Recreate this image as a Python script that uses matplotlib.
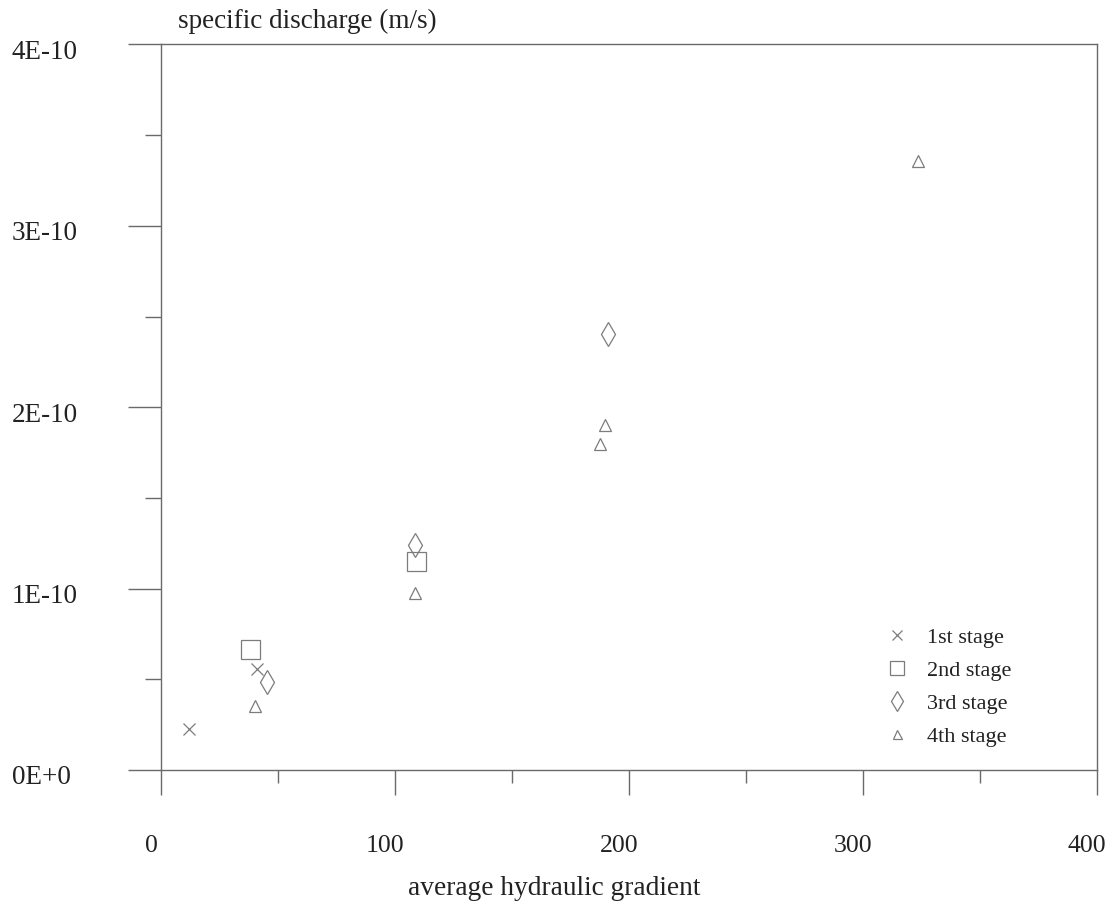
import matplotlib
matplotlib.use("Agg")
import matplotlib.pyplot as plt
from matplotlib.lines import Line2D
from matplotlib.ticker import FixedLocator, FixedFormatter, MultipleLocator
import matplotlib.transforms as mtransforms

# ---- data: specific discharge vs. average hydraulic gradient, per loading stage ----
stage1_gradient = [12.1, 41.0]
stage1_discharge = [0.226e-10, 0.557e-10]

stage2_gradient = [38.0, 109.0]
stage2_discharge = [0.666e-10, 1.155e-10]

stage3_gradient = [45.2, 108.5, 191.2]
stage3_discharge = [0.487e-10, 1.241e-10, 2.406e-10]

stage4_gradient = [40.3, 108.5, 189.7, 187.6, 323.6]
stage4_discharge = [0.353e-10, 0.978e-10, 1.903e-10, 1.799e-10, 3.356e-10]

stage_labels = ["1st stage", "2nd stage", "3rd stage", "4th stage"]

x_ticks = [0, 100, 200, 300, 400]
x_tick_labels = ["0", "100", "200", "300", "400"]
y_ticks = [0, 1e-10, 2e-10, 3e-10, 4e-10]
y_tick_labels = ["0E+0", "1E-10", "2E-10", "3E-10", "4E-10"]

x_label = "average hydraulic gradient"
y_label = "specific discharge (m/s)"

# ---- styling ----
SERIF = ["Liberation Serif", "DejaVu Serif"]
TEXT = "#222222"
LINE = "#6a6a6a"
MARK = "#7c7c7c"
PX = 0.72  # points per pixel at 100 dpi

plt.rcParams["font.family"] = SERIF

fig = plt.figure(figsize=(11.13, 9.10), dpi=100)
fig.patch.set_facecolor("white")
W, H = 1113, 910
left_px, right_px, bottom_px, top_px = 161, 1097, 770, 44.5
ax = fig.add_axes([left_px / W, 1 - bottom_px / H,
                   (right_px - left_px) / W, (bottom_px - top_px) / H])
ax.set_facecolor("white")
ax.set_xlim(0, 400)
ax.set_ylim(0, 4e-10)

for sp in ax.spines.values():
    sp.set_color(LINE)
    sp.set_linewidth(1.0)

# ticks
ax.xaxis.set_major_locator(FixedLocator(x_ticks))
ax.xaxis.set_major_formatter(FixedFormatter(x_tick_labels))
ax.xaxis.set_minor_locator(MultipleLocator(50))
ax.yaxis.set_major_locator(FixedLocator(y_ticks))
ax.yaxis.set_major_formatter(FixedFormatter(y_tick_labels))
ax.yaxis.set_minor_locator(MultipleLocator(0.5e-10))

ax.tick_params(axis="x", which="major", direction="out", length=25 * PX,
               width=1.0, color=LINE, pad=29, labelsize=18.5, labelcolor=TEXT)
ax.tick_params(axis="x", which="minor", direction="out", length=13 * PX,
               width=1.0, color=LINE)
ax.tick_params(axis="y", which="major", direction="out", length=33 * PX,
               width=1.0, color=LINE, pad=116 * PX, labelsize=19.5, labelcolor=TEXT)
ax.tick_params(axis="y", which="minor", direction="out", length=16 * PX,
               width=1.0, color=LINE)

ydown = mtransforms.ScaledTranslation(0, -5 / 100, fig.dpi_scale_trans)
for lab in ax.get_yticklabels():
    lab.set_horizontalalignment("left")
    lab.set_transform(lab.get_transform() + ydown)
xshift = mtransforms.ScaledTranslation(-10 / 100, 0, fig.dpi_scale_trans)
for lab in ax.get_xticklabels():
    lab.set_transform(lab.get_transform() + xshift)

# markers
mk = dict(linestyle="none", markerfacecolor="none", markeredgecolor=MARK,
          markeredgewidth=0.9)
ax.plot(stage1_gradient, stage1_discharge, marker="x", markersize=12 * PX, **mk)
ax.plot(stage2_gradient, stage2_discharge, marker="s", markersize=19 * PX, **mk)
ax.plot(stage3_gradient, stage3_discharge, marker="d", markersize=17 * PX, **mk)
ax.plot(stage4_gradient, stage4_discharge, marker="^", markersize=12.5 * PX, **mk)

# legend with smaller symbols
handles = [
    Line2D([], [], marker="x", markersize=10 * PX, **mk),
    Line2D([], [], marker="s", markersize=14 * PX, **mk),
    Line2D([], [], marker="d", markersize=14 * PX, **mk),
    Line2D([], [], marker="^", markersize=9 * PX, **mk),
]
leg = ax.legend(handles, stage_labels, loc="upper left",
                bbox_to_anchor=(886 / W, 1 - 627 / H),
                bbox_transform=fig.transFigure, frameon=False,
                fontsize=16, handlelength=1.0, handletextpad=0.85,
                labelspacing=0.56, borderpad=0, borderaxespad=0)
for t in leg.get_texts():
    t.set_color(TEXT)

# axis titles
fig.text(178 / W, 1 - 28 / H, y_label, ha="left", va="baseline",
         fontsize=19.5, color=TEXT)
fig.text(554 / W, 1 - 895 / H, x_label, ha="center", va="baseline",
         fontsize=19.7, color=TEXT)

fig.savefig("out.png", dpi=100, facecolor="white")
